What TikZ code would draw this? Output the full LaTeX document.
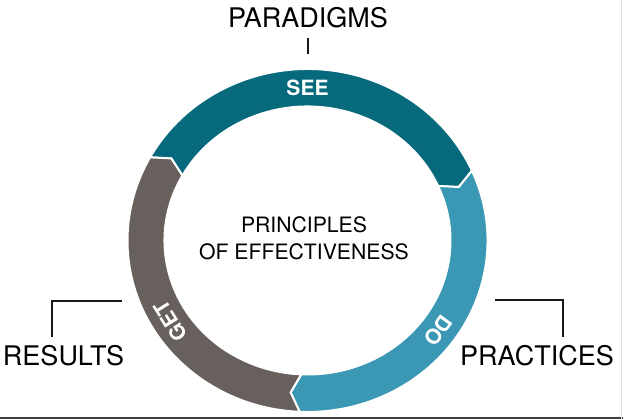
\documentclass[tikz,border=0pt]{standalone}
\usepackage{fontspec}
\setmainfont{TeX Gyre Heros}
\definecolor{seeC}{RGB}{6,106,124}
\definecolor{doC}{RGB}{58,152,180}
\definecolor{getC}{RGB}{104,96,93}
\tikzset{
  segm/.style={fill=#1, draw=white, line width=2pt, line join=miter},
  ringlbl/.style={text=white, font=\bfseries\fontsize{21}{22}\selectfont, inner sep=0pt},
  biglbl/.style={font=\fontsize{27}{30}\selectfont, inner sep=0pt, anchor=base},
  midlbl/.style={font=\fontsize{21.2}{27}\selectfont, inner sep=0pt, anchor=base},
  brk/.style={line width=2pt, black!90}
}
\begin{document}
\begin{tikzpicture}[x=1pt,y=1pt]
\useasboundingbox (0,0) rectangle (623,419);
\fill[white] (0,0) rectangle (623,419);
% ring
\begin{scope}[shift={(307.5,178.5)}]
\path[segm=seeC] (151:180pt and 171.5pt) arc[start angle=151,end angle=24,x radius=180pt,y radius=171.5pt]
  -- (20.5:161.5pt and 152.75pt) -- (24:143pt and 134pt)
  arc[start angle=24,end angle=151,x radius=143pt,y radius=134pt]
  -- (147.5:161.5pt and 152.75pt) -- cycle;
\path[segm=doC] (24:180pt and 171.5pt) arc[start angle=24,end angle=-92.5,x radius=180pt,y radius=171.5pt]
  -- (-96:161.5pt and 152.75pt) -- (-92.5:143pt and 134pt)
  arc[start angle=-92.5,end angle=24,x radius=143pt,y radius=134pt]
  -- (20.5:161.5pt and 152.75pt) -- cycle;
\path[segm=getC] (267.5:180pt and 171.5pt) arc[start angle=267.5,end angle=151,x radius=180pt,y radius=171.5pt]
  -- (147.5:161.5pt and 152.75pt) -- (151:143pt and 134pt)
  arc[start angle=151,end angle=267.5,x radius=143pt,y radius=134pt]
  -- (264:161.5pt and 152.75pt) -- cycle;
\node[ringlbl] (see) at (90:161.5pt and 152.75pt) {SEE};
\node[ringlbl, rotate=-126] (do) at (-36:161.5pt and 152.75pt) {DO};
\node[ringlbl, rotate=121.8] (get) at (211.8:161.5pt and 152.75pt) {GET};
\end{scope}
% center text
\node[midlbl] (pr) at (304,186) {PRINCIPLES};
\node[midlbl] (oe) at (304,159) {OF EFFECTIVENESS};
% outer labels
\node[biglbl] (par) at (308,391) {PARADIGMS};
\coordinate (tickT) at (308,381);
\coordinate (tickB) at (308,365);
\draw[brk] (tickT) -- (tickB);
\node[biglbl] (res) at (63.5,53) {RESULTS};
\node[biglbl] (pra) at (537,53) {PRACTICES};
\coordinate (lb1) at (52,82);
\coordinate (lb2) at (122,118);
\draw[brk] (lb1) |- (lb2);
\coordinate (rb1) at (495,119);
\coordinate (rb2) at (563,82);
\draw[brk] (rb1) -| (rb2);
% screenshot borders
\draw[line width=1.5pt, black!75] (0,0.75) -- (623,0.75);
\draw[line width=1pt, black!12] (621,0) -- (621,419);
\end{tikzpicture}
\end{document}
